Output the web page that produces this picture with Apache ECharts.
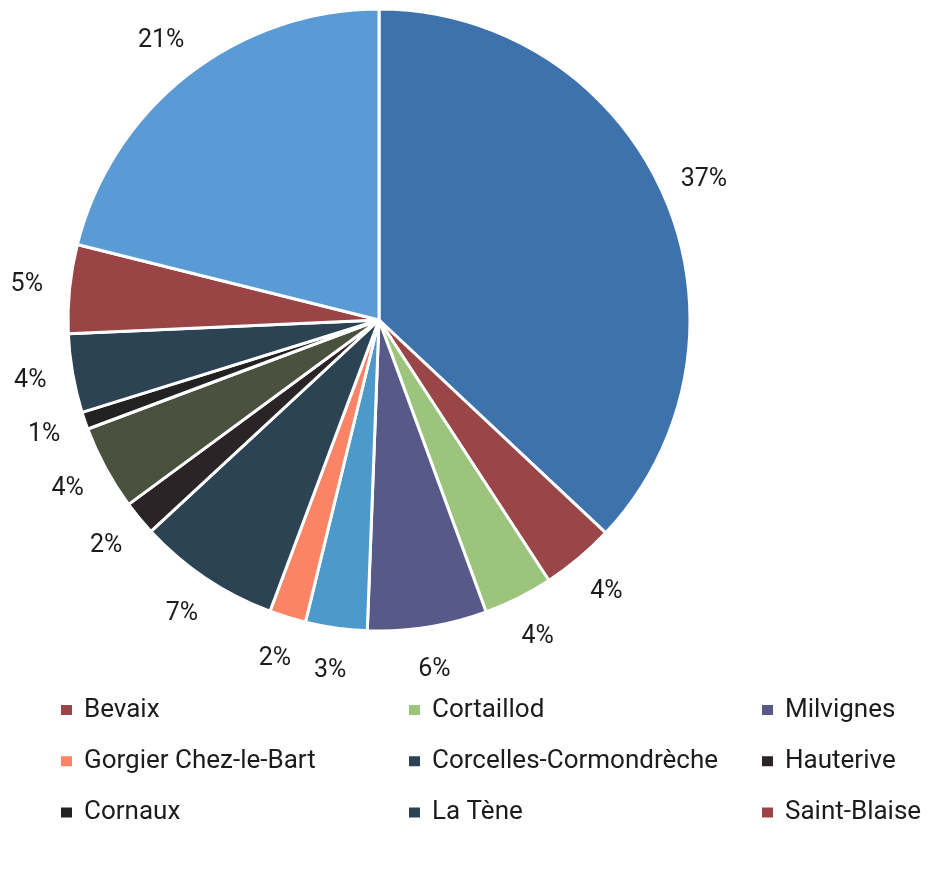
<!DOCTYPE html>
<html>
<head>
<meta charset="utf-8">
<script src="https://cdn.jsdelivr.net/npm/echarts@6/dist/echarts.min.js"></script>
<style>
html,body{margin:0;padding:0;background:#fff;}
#chart{width:928px;height:877px;}
</style>
</head>
<body>
<div id="chart"></div>
<script>
// ---- data (labels show rounded percentages) ----
const categories = [
  '(sans légende 1)', 'Bevaix', 'Cortaillod', 'Milvignes', '(sans légende 2)',
  'Gorgier Chez-le-Bart', 'Corcelles-Cormondrèche', 'Hauterive', '(sans légende 3)',
  'Cornaux', 'La Tène', 'Saint-Blaise', '(sans légende 4)'
];
const shares = [37.0, 3.8, 3.6, 6.2, 3.2, 1.9, 7.4, 1.8, 4.4, 0.9, 4.1, 4.6, 21.1];
const legendCol1 = ['Bevaix', 'Gorgier Chez-le-Bart', 'Cornaux'];
const legendCol2 = ['Cortaillod', 'Corcelles-Cormondrèche', 'La Tène'];
const legendCol3 = ['Milvignes', 'Hauterive', 'Saint-Blaise'];

// ---- styles ----
const sliceColors = [
  '#3e72ad', '#9a4547', '#9cc47c', '#575a88', '#4b9acb',
  '#fb8466', '#2c4354', '#2a2427', '#4a513f',
  '#222222', '#2c4354', '#9a4446', '#5b9bd5'
];
const FONT = 'Roboto, "Liberation Sans", sans-serif';

const pieData = categories.map((n, i) => ({ name: n, value: shares[i] }));

function legendCol(data, left) {
  return {
    data: data,
    orient: 'vertical',
    left: left,
    top: 695,
    padding: 0,
    itemWidth: 13,
    itemHeight: 12,
    itemGap: 21.3,
    icon: 'rect',
    selectedMode: false,
    textStyle: {
      fontFamily: FONT,
      fontSize: 26,
      lineHeight: 30,
      color: '#1c1c1c',
      padding: [0, 0, 0, 6]
    }
  };
}

const chart = echarts.init(document.getElementById('chart'), null, { renderer: 'canvas' });
chart.setOption({
  animation: false,
  color: sliceColors,
  legend: [
    legendCol(legendCol1, 59),
    legendCol(legendCol2, 407),
    legendCol(legendCol3, 760)
  ],
  series: [
    {
      type: 'pie',
      center: [379, 320],
      radius: 311,
      startAngle: 90,
      clockwise: true,
      data: pieData,
      label: { show: false },
      labelLine: { show: false },
      itemStyle: { borderColor: '#ffffff', borderWidth: 3 },
      emphasis: { disabled: true }
    },
    {
      type: 'pie',
      center: [379, 320],
      radius: [330, 372],
      startAngle: 90,
      clockwise: true,
      silent: true,
      legendHoverLink: false,
      data: pieData,
      itemStyle: { color: 'rgba(0,0,0,0)', borderWidth: 0 },
      label: {
        show: true,
        position: 'inside',
        formatter: p => Math.round(p.value) + '%',
        fontFamily: FONT,
        fontSize: 25,
        color: '#1c1c1c'
      },
      labelLine: { show: false },
      emphasis: { disabled: true }
    }
  ]
});
</script>
</body>
</html>
